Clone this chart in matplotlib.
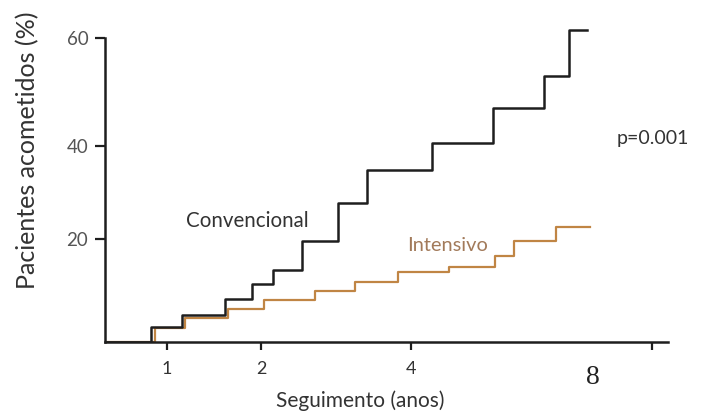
"""Cumulative incidence step chart: conventional vs intensive therapy."""

import matplotlib

matplotlib.use("Agg")
import matplotlib.pyplot as plt
import numpy as np

# Follow-up (years) where each curve steps up, and the level (%) after the step
conv_years = [0.0, 0.737, 1.156, 1.617, 1.901, 2.164, 2.551, 3.031, 3.413, 4.344, 5.356, 6.207, 6.627, 6.921]
conv_pct = [0.0, 3.0, 5.2, 8.4, 11.3, 14.0, 19.7, 27.8, 34.8, 40.5, 47.1, 52.9, 61.6, 61.6]

int_years = [0.0, 0.806, 1.191, 1.652, 2.04, 2.72, 3.253, 3.831, 4.639, 5.394, 5.705, 6.407, 6.971]
int_pct = [0.0, 2.7, 4.6, 6.4, 8.2, 10.0, 11.6, 13.5, 14.6, 16.7, 19.7, 22.5, 22.5]

x_ticks = [1, 2, 4, 8]
x_tick_labels = ["1", "2", "4", ""]
y_ticks = [20, 40, 60]
y_tick_labels = ["20", "40", "60"]

# the original axes are hand drawn and not evenly spaced
x_knots = [0, 1, 2, 4, 8, 12]
x_knot_pos = [0, 62, 156, 306, 547, 788]
y_knots = [0, 20, 40, 60, 80]
y_knot_pos = [0, 103, 196.3, 303.7, 411.1]

FONT = "Lato"
BLACK = "#1e1e1e"
ORANGE = "#c08544"


def fwd(knots, pos):
    return lambda v: np.interp(v, knots, pos)


fig = plt.figure(figsize=(7.01, 4.12), dpi=100)
ax = fig.add_axes([105 / 701, 70 / 412, 563 / 701, 319.8 / 412])
ax.set_xscale("function", functions=(fwd(x_knots, x_knot_pos), fwd(x_knot_pos, x_knots)))
ax.set_yscale("function", functions=(fwd(y_knots, y_knot_pos), fwd(y_knot_pos, y_knots)))

ax.step(int_years, int_pct, where="post", color=ORANGE, linewidth=1.6, zorder=2)
ax.step(conv_years, conv_pct, where="post", color=BLACK, linewidth=1.8, zorder=3)

ax.set_xlim(0, 8.266)
ax.set_ylim(0, 63)

for side in ("top", "right"):
    ax.spines[side].set_visible(False)
for side in ("left", "bottom"):
    ax.spines[side].set_color(BLACK)
    ax.spines[side].set_linewidth(1.8)
ax.spines["left"].set_bounds(0, 60)

ax.set_xticks(x_ticks)
ax.set_xticklabels(x_tick_labels, fontfamily=FONT, fontsize=13, color="#333333")
ax.set_yticks(y_ticks)
ax.set_yticklabels(y_tick_labels, fontfamily=FONT, fontsize=13.5, color="#555555")
ax.xaxis.set_minor_locator(matplotlib.ticker.NullLocator())
ax.yaxis.set_minor_locator(matplotlib.ticker.NullLocator())
ax.tick_params(axis="x", length=6, width=1.6, color=BLACK, pad=8)
ax.tick_params(axis="y", length=7, width=1.6, color=BLACK, pad=5)

ax.set_xlabel("Seguimento (anos)", fontfamily=FONT, fontsize=15, color="#333333")
ax.xaxis.set_label_coords(0.454, -0.1835)
ax.xaxis.label.set_va("center")
ax.set_ylabel("Pacientes acometidos (%)", fontfamily=FONT, fontsize=18, color="#333333")
ax.yaxis.set_label_coords(-0.1368, 0.60)
ax.yaxis.label.set_va("center")

ax.text(1.85, 23.9, "Convencional", fontfamily=FONT, fontsize=14.8, color="#333333",
        ha="center", va="center")
ax.text(4.6, 18.8, "Intensivo", fontfamily=FONT, fontsize=14.4, color="#a27a5a",
        ha="center", va="center")
ax.text(8.02, 41.4, "p=0.001", fontfamily=FONT, fontsize=14, color="#333333",
        ha="center", va="center", clip_on=False)

fig.text(593 / 701, 1 - 377 / 412, "8", fontfamily="Liberation Serif", fontsize=20,
         color="#222222", ha="center", va="center")

fig.savefig("out.png", dpi=100, facecolor="white")
plt.close(fig)
